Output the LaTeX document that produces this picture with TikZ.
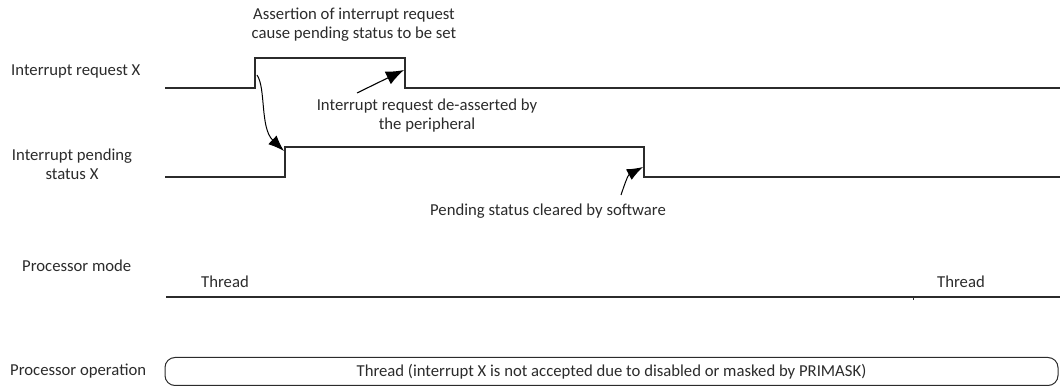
\documentclass[tikz,border=0pt]{standalone}
\usepackage{fontspec}
\setmainfont{Carlito}
\usetikzlibrary{arrows.meta}
\definecolor{ink}{HTML}{2B2B2B}
\begin{document}
\begin{tikzpicture}[x=1pt,y=-1pt,
  lbl/.style={text=ink,font=\fontsize{16.7}{19}\selectfont,inner sep=0pt,align=center},
  sig/.style={draw=ink,line width=1.4pt},
  ptr/.style={draw=black,line width=1.1pt,-{Latex[length=18pt,width=14pt]}},
  ptrs/.style={draw=black,line width=1pt,-{Latex[length=16pt,width=12pt]}}]
\useasboundingbox (0,0) rectangle (1061,387);
% left labels
\node[lbl,anchor=west] (lreq) at (11,71) {Interrupt request X};
\node[lbl] (lpend) at (72,164) {Interrupt pending\\status X};
\node[lbl,anchor=west] (lmode) at (22,266) {Processor mode};
\node[lbl,anchor=west] (lop) at (10,371) {Processor operation};
% signals
\draw[sig] (165,88) -- (255,88) -- (255,58) -- (405,58) -- (405,88) -- (1060,88);
\draw[sig] (165,177) -- (285,177) -- (285,147) -- (644,147) -- (644,177) -- (1060,177);
\draw[sig] (166,297) -- (1060,297);
\draw[draw=ink,line width=0.8pt] (913,297) -- (913,300);
% annotations
\node[lbl] (tassert) at (354,25) {Assertion of interrupt request\\cause pending status to be set};
\node[lbl] (tdeassert) at (427,116) {Interrupt request de-asserted by\\the peripheral};
\node[lbl] (tclear) at (548,211) {Pending status cleared by software};
\node[lbl] (thr1) at (225,282) {Thread};
\node[lbl] (thr2) at (961,282) {Thread};
% operation box
\node[draw=ink,line width=1pt,rounded corners=10pt,minimum width=893pt,minimum height=28pt,inner sep=0pt] (opbox) at (611.5,371.5) {};
\node[lbl] (optext) at (opbox.center) {Thread (interrupt X is not accepted due to disabled or masked by PRIMASK)};
% connectors
\coordinate (a1s) at (257,75);
\coordinate (a1e) at (284,151);
\coordinate (a2s) at (357,93);
\coordinate (a2e) at (404,70);
\coordinate (a3s) at (621,195);
\coordinate (a3e) at (643,167);
\draw[ptrs] (a1s) .. controls (266,88) and (260,128) .. (a1e);
\draw[ptr] (a2s) -- (a2e);
\draw[ptrs] (a3s) .. controls (625,183) and (628,175) .. (a3e);
\end{tikzpicture}
\end{document}
